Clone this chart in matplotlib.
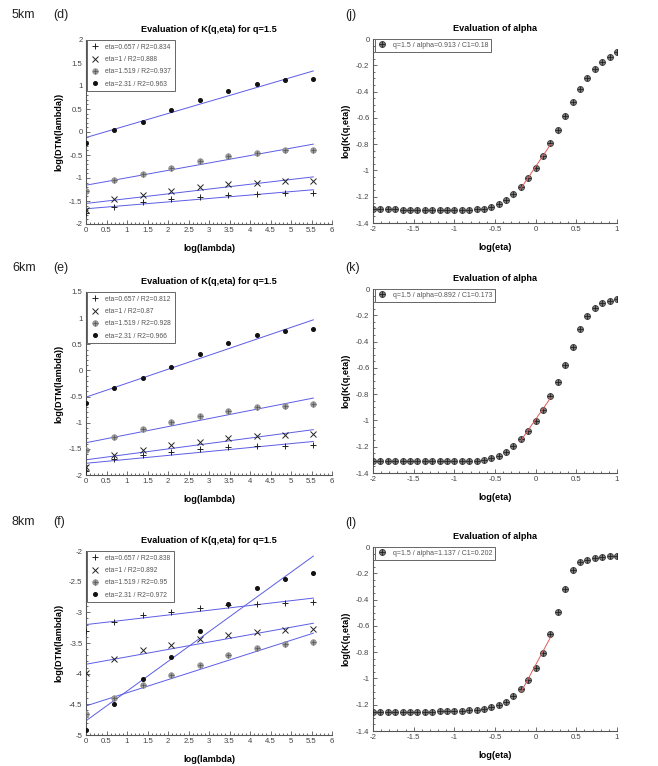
import matplotlib
matplotlib.use("Agg")
import matplotlib.pyplot as plt
import numpy as np
from matplotlib.ticker import MultipleLocator, AutoMinorLocator, FuncFormatter
from matplotlib.legend_handler import HandlerTuple

plt.rcParams['font.family'] = ['Liberation Sans', 'DejaVu Sans']

# ---------------- data ----------------
log_lambda = [0.0, 0.693, 1.386, 2.079, 2.773, 3.466, 4.159, 4.852, 5.545]
eta_labels = ["0.657", "1", "1.519", "2.31"]

# panel (d) 5km
d_eta0657 = [-1.76, -1.623, -1.529, -1.464, -1.413, -1.377, -1.348, -1.326, -1.319]
d_eta1 = [-1.69, -1.464, -1.370, -1.275, -1.196, -1.138, -1.109, -1.072, -1.065]
d_eta1519 = [-1.283, -1.043, -0.906, -0.775, -0.630, -0.522, -0.449, -0.399, -0.384]
d_eta231 = [-0.232, 0.043, 0.225, 0.471, 0.703, 0.899, 1.043, 1.130, 1.152]
d_r2 = ["0.834", "0.888", "0.937", "0.963"]

# panel (e) 6km
e_eta0657 = [-1.918, -1.702, -1.619, -1.555, -1.511, -1.473, -1.453, -1.441, -1.434]
e_eta1 = [-1.841, -1.624, -1.524, -1.428, -1.365, -1.301, -1.250, -1.231, -1.224]
e_eta1519 = [-1.524, -1.282, -1.129, -0.995, -0.874, -0.779, -0.696, -0.671, -0.651]
e_eta231 = [-0.620, -0.340, -0.142, 0.074, 0.310, 0.526, 0.685, 0.762, 0.800]
e_r2 = ["0.812", "0.87", "0.928", "0.966"]

# panel (f) 8km
f_eta0657 = [-3.30, -3.152, -3.049, -2.989, -2.935, -2.880, -2.864, -2.848, -2.837]
f_eta1 = [-3.995, -3.755, -3.620, -3.533, -3.440, -3.375, -3.321, -3.293, -3.277]
f_eta1519 = [-4.66, -4.397, -4.185, -4.022, -3.859, -3.696, -3.576, -3.522, -3.478]
f_eta231 = [-4.918, -4.495, -4.092, -3.723, -3.304, -2.870, -2.609, -2.457, -2.364]
f_r2 = ["0.838", "0.892", "0.95", "0.972"]

log_eta = [-2.000, -1.909, -1.818, -1.727, -1.636, -1.545, -1.455, -1.364, -1.273,
           -1.182, -1.091, -1.000, -0.909, -0.818, -0.727, -0.636, -0.545, -0.455,
           -0.364, -0.273, -0.182, -0.091, 0.000, 0.091, 0.182, 0.273, 0.364,
           0.455, 0.545, 0.636, 0.727, 0.818, 0.909, 1.000]

j_K = [-1.296, -1.296, -1.297, -1.297, -1.298, -1.298, -1.298, -1.299, -1.299,
       -1.300, -1.300, -1.300, -1.300, -1.299, -1.297, -1.290, -1.278, -1.258,
       -1.225, -1.179, -1.126, -1.060, -0.981, -0.890, -0.794, -0.692, -0.583,
       -0.477, -0.383, -0.297, -0.228, -0.175, -0.134, -0.101]
k_K = [-1.305, -1.306, -1.307, -1.308, -1.309, -1.309, -1.310, -1.310, -1.311,
       -1.311, -1.311, -1.311, -1.310, -1.309, -1.306, -1.300, -1.289, -1.268,
       -1.238, -1.196, -1.140, -1.078, -1.005, -0.918, -0.816, -0.705, -0.578,
       -0.441, -0.307, -0.205, -0.145, -0.109, -0.090, -0.079]
l_K = [-1.252, -1.253, -1.253, -1.253, -1.253, -1.253, -1.253, -1.253, -1.252,
       -1.251, -1.250, -1.249, -1.246, -1.243, -1.238, -1.231, -1.220, -1.203,
       -1.176, -1.137, -1.084, -1.012, -0.918, -0.806, -0.664, -0.497, -0.317,
       -0.172, -0.114, -0.096, -0.086, -0.079, -0.072, -0.068]
alpha_vals = ["0.913", "0.892", "1.137"]
c1_vals = ["0.18", "0.173", "0.202"]
fit_range = [-0.182, 0.182]

km_labels = ["5km", "6km", "8km"]
left_tags = ["(d)", "(e)", "(f)"]
right_tags = ["(j)", "(k)", "(l)"]
left_ylims = [(-2, 2), (-2, 1.5), (-5, -2)]

# ---------------- style ----------------
W, H = 658, 766
fig = plt.figure(figsize=(W / 100, H / 100), dpi=100)

def box(x0, y0, x1, y1):
    return [x0 / W, 1 - y1 / H, (x1 - x0) / W, (y1 - y0) / H]

left_boxes = [box(86, 40, 332, 224), box(86, 292, 332, 475), box(86, 551, 332, 735)]
right_boxes = [box(373, 39, 617, 223), box(373, 289, 617, 473), box(373, 547, 617, 731)]

BLUE = '#5c5ce6'
RED = '#e05a5a'
TICKC = '#444444'
SPINE = '#555555'

def style_axes(ax):
    for s in ['top', 'right']:
        ax.spines[s].set_visible(False)
    for s in ['left', 'bottom']:
        ax.spines[s].set_color(SPINE)
        ax.spines[s].set_linewidth(0.8)
    ax.tick_params(which='both', direction='in', colors=SPINE, labelcolor=TICKC,
                   labelsize=5.6, width=0.6)
    ax.tick_params(which='major', length=3, pad=2.5)
    ax.tick_params(which='minor', length=1.6)

left_data = [
    [d_eta0657, d_eta1, d_eta1519, d_eta231, d_r2],
    [e_eta0657, e_eta1, e_eta1519, e_eta231, e_r2],
    [f_eta0657, f_eta1, f_eta1519, f_eta231, f_r2],
]

fmt = FuncFormatter(lambda v, p: f"{round(v, 2):g}")

x = np.array(log_lambda)
for i, (b, dat) in enumerate(zip(left_boxes, left_data)):
    ax = fig.add_axes(b)
    style_axes(ax)
    series = dat[:4]
    r2 = dat[4]
    for ys in series:
        ys = np.array(ys)
        p = np.polyfit(x, ys, 1)
        ax.plot([x[0], x[-1]], np.polyval(p, [x[0], x[-1]]), color=BLUE, lw=0.7, zorder=2)
    h0, = ax.plot(x, series[0], ls='none', marker='+', ms=4.0, mew=0.7, color='#222222', zorder=3)
    h1, = ax.plot(x, series[1], ls='none', marker='x', ms=4.2, mew=0.7, color='#222222', zorder=3)
    h2a, = ax.plot(x, series[2], ls='none', marker='o', ms=4.0, mfc='#9a9a9a', mec='#8a8a8a', mew=0.5, zorder=3)
    h2b, = ax.plot(x, series[2], ls='none', marker='+', ms=3.6, mew=0.5, color='#555555', zorder=4)
    h3, = ax.plot(x, series[3], ls='none', marker='o', ms=2.6, mfc='#111111', mec='#111111', zorder=3)
    labels = [f"eta={e} / R2={r}" for e, r in zip(eta_labels, r2)]
    leg = ax.legend([h0, h1, (h2a, h2b), h3], labels,
                    handler_map={tuple: HandlerTuple(ndivide=1, pad=0)},
                    loc='upper left', bbox_to_anchor=(0.005, 1.0), fontsize=4.9,
                    fancybox=False, edgecolor='#666666', framealpha=1,
                    handlelength=1.2, handletextpad=0.9, borderpad=0.55,
                    labelspacing=0.78, borderaxespad=0.0, labelcolor='#555555')
    leg.get_frame().set_linewidth(0.7)
    ax.set_xlim(0, 6)
    ax.set_ylim(*left_ylims[i])
    ax.xaxis.set_major_locator(MultipleLocator(0.5))
    ax.yaxis.set_major_locator(MultipleLocator(0.5))
    ax.xaxis.set_minor_locator(AutoMinorLocator(5))
    ax.yaxis.set_minor_locator(AutoMinorLocator(5))
    ax.xaxis.set_major_formatter(fmt)
    ax.yaxis.set_major_formatter(fmt)
    ax.set_title("Evaluation of K(q,eta) for q=1.5", fontsize=6.6, fontweight='bold', pad=6)
    ax.set_xlabel("log(lambda)", fontsize=6.6, fontweight='bold', labelpad=7)
    ax.set_ylabel("log(DTM(lambda))", fontsize=6.6, fontweight='bold', labelpad=4)

right_data = [j_K, k_K, l_K]
xe = np.array(log_eta)
for i, (b, ys) in enumerate(zip(right_boxes, right_data)):
    ax = fig.add_axes(b)
    style_axes(ax)
    ys = np.array(ys)
    mask = (xe >= fit_range[0] - 1e-6) & (xe <= fit_range[1] + 1e-6)
    p = np.polyfit(xe[mask], ys[mask], 1)
    xf = np.array([xe[mask][0], xe[mask][-1]])
    ax.plot(xf, np.polyval(p, xf), color=RED, lw=0.7, zorder=4)
    ha, = ax.plot(xe, ys, ls='none', marker='o', ms=4.3, mfc='#7a7a7a', mec='#3a3a3a', mew=0.6, zorder=3)
    hb, = ax.plot(xe, ys, ls='none', marker='+', ms=4.0, mew=0.6, color='#222222', zorder=3)
    leg = ax.legend([(ha, hb)], [f"q=1.5 / alpha={alpha_vals[i]} / C1={c1_vals[i]}"],
                    handler_map={tuple: HandlerTuple(ndivide=1, pad=0)},
                    loc='upper left', bbox_to_anchor=(0.008, 1.0), fontsize=5.0,
                    fancybox=False, edgecolor='#666666', framealpha=1,
                    handlelength=1.3, handletextpad=0.9, borderpad=0.4,
                    borderaxespad=0.0, labelcolor='#555555')
    leg.get_frame().set_linewidth(0.7)
    ax.set_xlim(-2, 1)
    ax.set_ylim(-1.4, 0)
    ax.xaxis.set_major_locator(MultipleLocator(0.5))
    ax.yaxis.set_major_locator(MultipleLocator(0.2))
    ax.xaxis.set_minor_locator(AutoMinorLocator(5))
    ax.yaxis.set_minor_locator(AutoMinorLocator(4))
    ax.xaxis.set_major_formatter(fmt)
    ax.yaxis.set_major_formatter(fmt)
    ax.set_title("Evaluation of alpha", fontsize=6.6, fontweight='bold', pad=6)
    ax.set_xlabel("log(eta)", fontsize=6.6, fontweight='bold', labelpad=7)
    ax.set_ylabel("log(K(q,eta))", fontsize=6.6, fontweight='bold', labelpad=4)

# panel labels
left_tag_y = [15, 268, 522]
right_tag_y = [15, 268, 523]
for i in range(3):
    fig.text(12 / W, 1 - left_tag_y[i] / H, km_labels[i], fontsize=9, va='center', ha='left', color='#222222')
    fig.text(53 / W, 1 - left_tag_y[i] / H, left_tags[i], fontsize=9, va='center', ha='left', color='#222222')
    fig.text(345 / W, 1 - right_tag_y[i] / H, right_tags[i], fontsize=9, va='center', ha='left', color='#222222')

fig.savefig("out.png", dpi=100, facecolor='white')
